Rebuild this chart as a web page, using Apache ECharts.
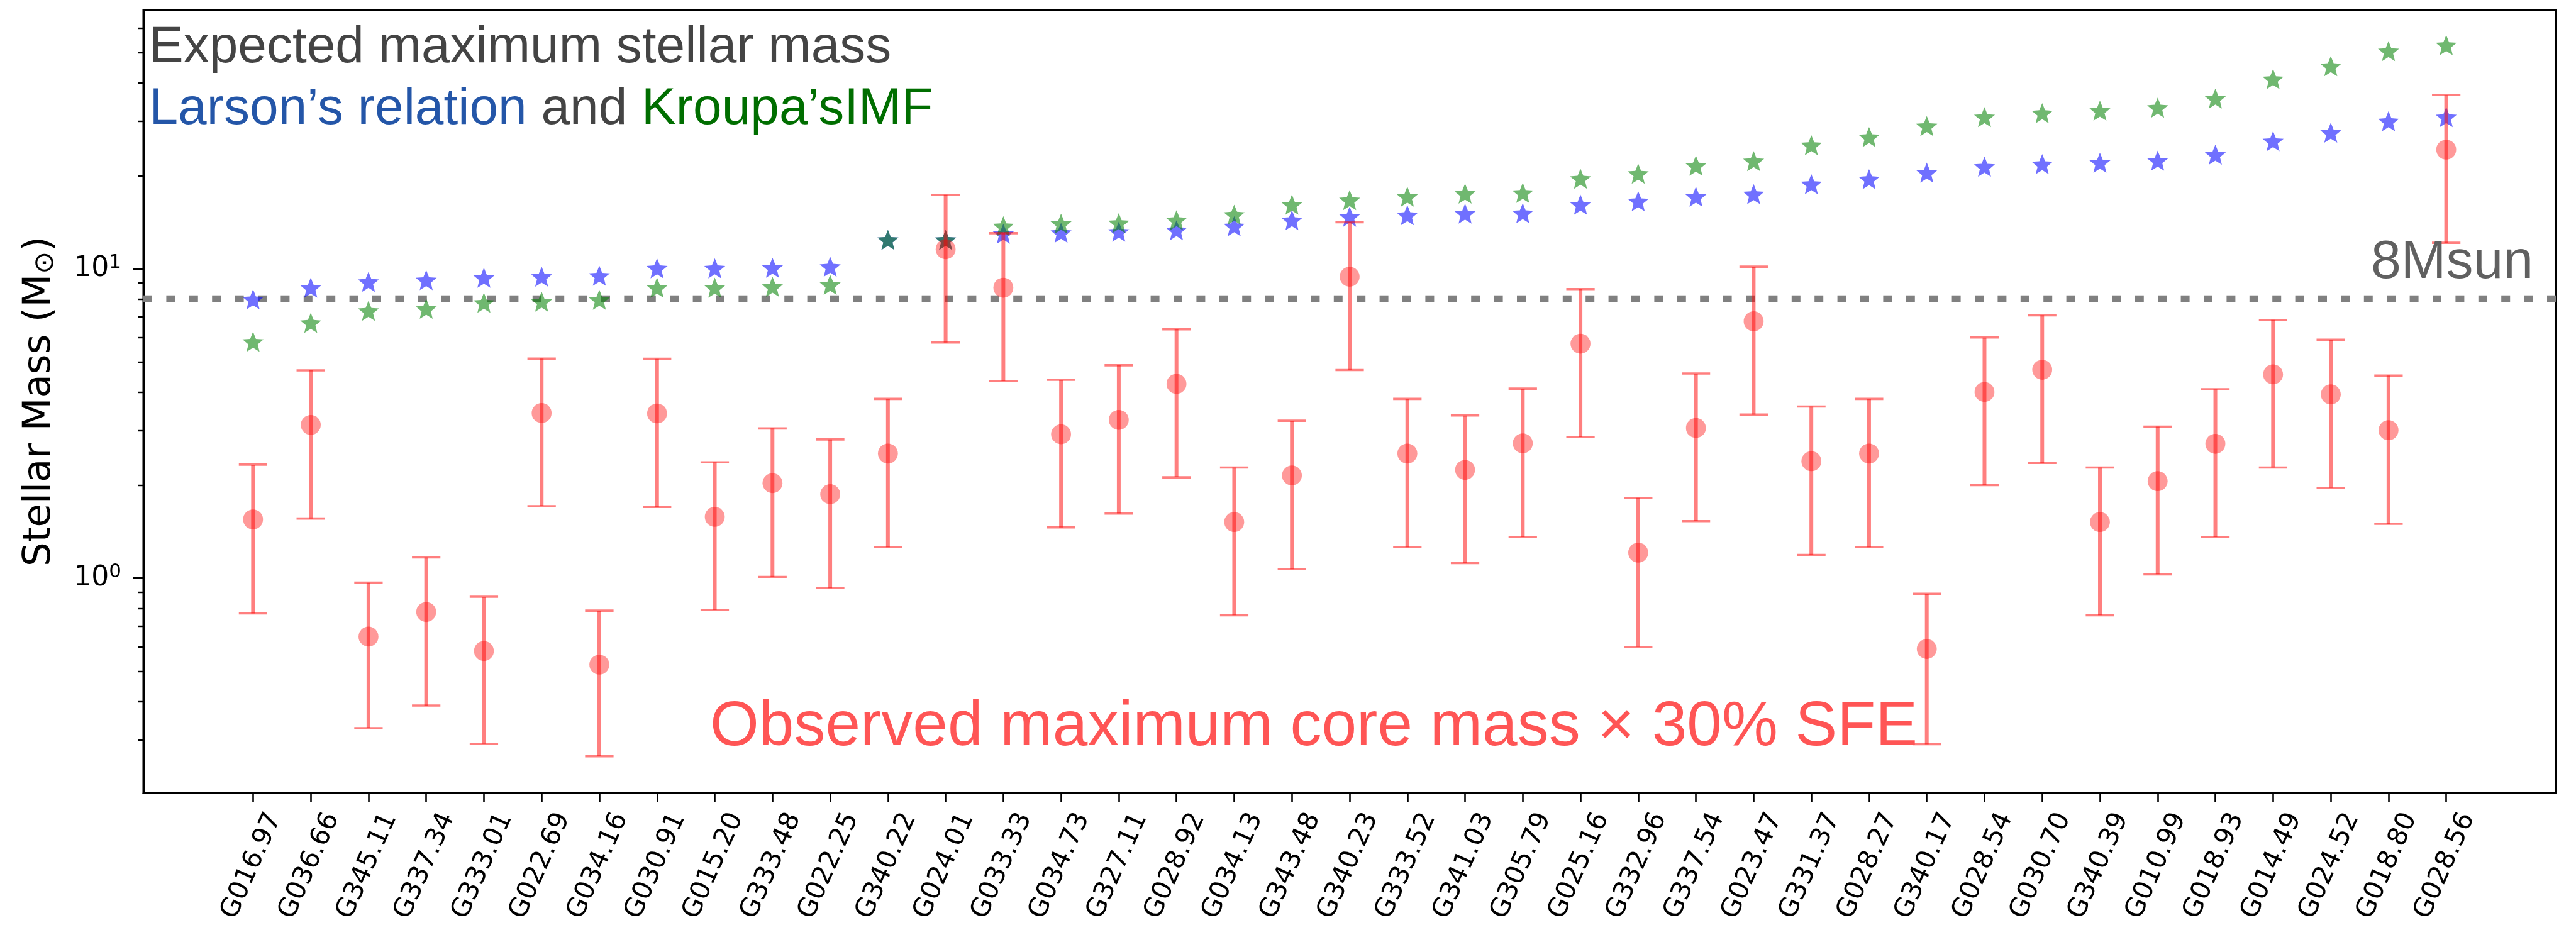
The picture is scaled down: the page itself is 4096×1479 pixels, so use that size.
<!DOCTYPE html>
<html><head><meta charset="utf-8">
<script src="https://cdn.jsdelivr.net/npm/echarts@6/dist/echarts.min.js"></script>
<style>html,body{margin:0;padding:0;background:#fff}#c{width:4096px;height:1479px}</style>
</head><body><div id="c"></div>
<script>
const categories = ['G016.97','G036.66','G345.11','G337.34','G333.01','G022.69','G034.16','G030.91','G015.20','G333.48','G022.25','G340.22','G024.01','G033.33','G034.73','G327.11','G028.92','G034.13','G343.48','G340.23','G333.52','G341.03','G305.79','G025.16','G332.96','G337.54','G023.47','G331.37','G028.27','G340.17','G028.54','G030.70','G340.39','G010.99','G018.93','G014.49','G024.52','G018.80','G028.56'];
const larsonMass = [7.97,8.69,9.08,9.19,9.36,9.43,9.50,10.04,10.04,10.08,10.16,12.4,12.4,12.99,13.08,13.18,13.33,13.73,14.36,14.74,14.91,15.08,15.13,16.12,16.54,17.11,17.43,18.78,19.49,20.46,21.39,21.79,22.03,22.37,23.39,25.86,27.55,30.01,30.93];
const kroupaMass = [5.81,6.69,7.32,7.43,7.77,7.83,7.94,8.69,8.69,8.75,8.88,12.4,12.4,13.73,13.99,14.06,14.36,14.96,16.12,16.67,17.11,17.50,17.6,19.56,20.30,21.55,22.28,25.10,26.65,28.92,30.93,31.86,32.45,33.19,35.49,41.04,45.20,50.54,52.85];
const observedMass = [1.55,3.13,0.648,0.778,0.582,3.42,0.526,3.41,1.58,2.03,1.87,2.53,11.57,8.69,2.92,3.25,4.25,1.52,2.15,9.43,2.53,2.24,2.73,5.73,1.21,3.06,6.77,2.39,2.53,0.591,4.00,4.72,1.52,2.06,2.72,4.56,3.93,3.01,24.28];
const observedErr = [0.78,1.57,0.32,0.39,0.29,1.71,0.26,1.71,0.79,1.02,0.94,1.27,5.79,4.35,1.46,1.63,2.13,0.76,1.08,4.72,1.27,1.12,1.37,2.87,0.61,1.53,3.39,1.20,1.27,0.30,2.00,2.36,0.76,1.03,1.36,2.28,1.97,1.51,12.14];
const thresholdMass = 8;
const yMajorTicks = [1, 10];
const yMinorTicks = [0.3,0.4,0.5,0.6,0.7,0.8,0.9,2,3,4,5,6,7,8,9,20,30,40,50,60];
const Y_MIN = 0.2025, Y_MAX = 68.6;
const X_MIN = -1.9, X_MAX = 39.9;
const LABEL_SHIFT = 0.375;

const STAR = 'path://M0,-1L0.2586,-0.356L0.951,-0.309L0.4185,0.136L0.588,0.809L0,0.44L-0.588,0.809L-0.4185,0.136L-0.951,-0.309L-0.2586,-0.356Z';
const RED = 'rgba(255,0,0,0.5)';

const chart = echarts.init(document.getElementById('c'), null, {renderer:'canvas'});
const xTickVals = categories.map((_, i) => i);
const xLabelVals = categories.map((_, i) => i + LABEL_SHIFT);

const option = {
  animation: false,
  backgroundColor: '#fff',
  textStyle: {fontFamily: 'DejaVu Sans'},
  grid: {left: 228, top: 16, right: 32, bottom: 218, show: true, borderColor: '#000', borderWidth: 3, backgroundColor: 'transparent', containLabel: false, outerBoundsMode: 'none'},
  xAxis: {
    type: 'value', min: X_MIN, max: X_MAX,
    axisLine: {show: true, onZero: false, lineStyle: {color: '#000', width: 3}},
    axisTick: {show: true, customValues: xTickVals, length: 15, lineStyle: {color: '#000', width: 2.6}},
    axisLabel: {show: true, customValues: xLabelVals, rotate: 66, margin: 34, fontSize: 42, fontFamily: 'DejaVu Sans', color: '#000',
      formatter: v => categories[Math.round(v - LABEL_SHIFT)] || ''},
    splitLine: {show: false}
  },
  yAxis: [{
    type: 'log', logBase: 10, min: Y_MIN, max: Y_MAX, position: 'left',
    name: 'Stellar Mass (M{sub|⊙})', nameLocation: 'middle', nameRotate: 90, nameGap: 134,
    nameTextStyle: {fontFamily: 'DejaVu Sans', fontSize: 61, color: '#000',
      rich: {sub: {fontFamily: 'DejaVu Sans', fontSize: 43, color: '#000', verticalAlign: 'bottom'}}},
    axisLine: {show: true, onZero: false, lineStyle: {color: '#000', width: 3}},
    axisTick: {show: true, customValues: yMajorTicks, length: 16, lineStyle: {color: '#000', width: 3}},
    axisLabel: {show: true, customValues: yMajorTicks, margin: 35,
      formatter: v => '{b|10}{s|' + Math.round(Math.log10(v)) + '}',
      rich: {b: {fontFamily: 'DejaVu Sans', fontSize: 44, color: '#000', lineHeight: 50},
             s: {fontFamily: 'DejaVu Sans', fontSize: 31, color: '#000', verticalAlign: 'top', lineHeight: 31}}},
    splitLine: {show: false}, minorTick: {show: false}
  }, {
    type: 'log', logBase: 10, min: Y_MIN, max: Y_MAX, position: 'left', offset: 0,
    axisLine: {show: false, onZero: false},
    axisTick: {show: true, customValues: yMinorTicks, length: 9, lineStyle: {color: '#000', width: 2.4}},
    axisLabel: {show: false},
    splitLine: {show: false}
  }],
  series: [
    {type: 'line', name: '8Msun', yAxisIndex: 0, z: 1, symbol: 'none', silent: true,
      data: [[X_MIN, thresholdMass], [X_MAX, thresholdMass]],
      lineStyle: {color: '#808080', width: 11, type: [14, 22.4], cap: 'butt'}},
    {type: 'scatter', name: 'Larson', yAxisIndex: 0, z: 3, symbol: STAR, symbolSize: [33.5, 32],
      data: larsonMass.map((v, i) => [i, v]), itemStyle: {color: 'rgba(0,0,255,0.7)'}},
    {type: 'scatter', name: 'Kroupa', yAxisIndex: 0, z: 3, symbol: STAR, symbolSize: [33.5, 32],
      data: kroupaMass.map((v, i) => [i, v]), itemStyle: {color: 'rgba(0,128,0,0.7)'}},
    {type: 'custom', name: 'err', yAxisIndex: 0, z: 4,
      data: observedMass.map((v, i) => [i, v, observedErr[i]]),
      encode: {x: 0, y: 1},
      renderItem: (params, api) => {
        const x = api.value(0), v = api.value(1), e = api.value(2);
        const t = api.coord([x, v + e]), b = api.coord([x, v - e]);
        const cw = 22.6;
        const st = {stroke: RED, lineWidth: 6, fill: null};
        const cs = {stroke: RED, lineWidth: 3.6, fill: null};
        return {type: 'group', children: [
          {type: 'line', shape: {x1: t[0], y1: t[1], x2: b[0], y2: b[1]}, style: st},
          {type: 'line', shape: {x1: t[0] - cw, y1: t[1], x2: t[0] + cw, y2: t[1]}, style: cs},
          {type: 'line', shape: {x1: b[0] - cw, y1: b[1], x2: b[0] + cw, y2: b[1]}, style: cs}
        ]};
      }},
    {type: 'scatter', name: 'Observed', yAxisIndex: 0, z: 4, symbol: 'circle', symbolSize: 31.7,
      data: observedMass.map((v, i) => [i, v]), itemStyle: {color: RED}}
  ],
  graphic: [
    {type: 'text', z: 10, style: {text: 'Expected maximum stellar mass', x: 237, y: 76.8, align: 'left', verticalAlign: 'middle',
      fontFamily: 'Liberation Sans', fontSize: 82, fill: '#444444'}},
    {type: 'text', z: 10, style: {text: '{b|Larson’s relation} {a|and} {g|Kroupa’sIMF}', x: 237.5, y: 174.6, align: 'left', verticalAlign: 'middle',
      fontFamily: 'Liberation Sans', fontSize: 82, fill: '#444444',
      rich: {b: {fontFamily: 'Liberation Sans', fontSize: 82, fill: '#2456a8', color: '#2456a8'},
             a: {fontFamily: 'Liberation Sans', fontSize: 82, fill: '#444444', color: '#444444'},
             g: {fontFamily: 'Liberation Sans', fontSize: 82, fill: '#006e00', color: '#006e00'}}}},
    {type: 'text', z: 10, style: {text: '8Msun', x: 3770, y: 418, align: 'left', verticalAlign: 'middle',
      fontFamily: 'Liberation Sans', fontSize: 86, fill: '#606060'}},
    {type: 'text', z: 10, style: {text: 'Observed maximum core mass × 30% SFE', x: 1129, y: 1157, align: 'left', verticalAlign: 'middle',
      fontFamily: 'Liberation Sans', fontSize: 100, fill: '#ff5555'}}
  ]
};
chart.setOption(option);
</script></body></html>
